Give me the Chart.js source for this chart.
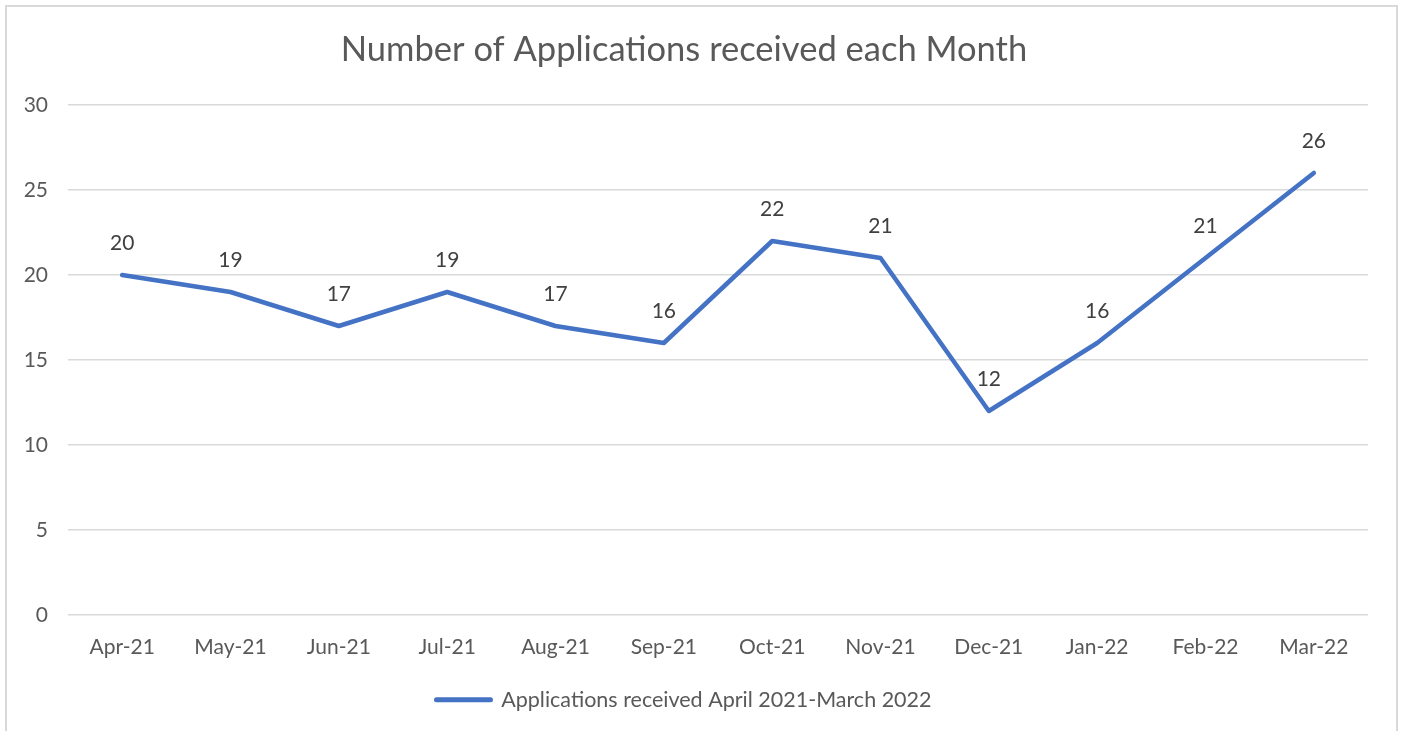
<!DOCTYPE html>
<html>
<head>
<meta charset="utf-8">
<script src="https://cdn.jsdelivr.net/npm/chart.js@4.4.1/dist/chart.umd.min.js"></script>
<style>
  html, body { margin: 0; padding: 0; background: #fff; }
  .wrap { position: relative; width: 1402px; height: 731px; overflow: hidden; }
  .frame { position: absolute; left: 5px; top: 5px; width: 1389px; height: 760px; border: 2px solid #d9d9d9; }
  canvas { position: absolute; left: 0; top: 0; }
</style>
</head>
<body>
<div class="wrap">
  <div class="frame"></div>
  <canvas id="chart" width="1402" height="731"></canvas>
</div>
<script>
const months = ['Apr-21', 'May-21', 'Jun-21', 'Jul-21', 'Aug-21', 'Sep-21', 'Oct-21', 'Nov-21', 'Dec-21', 'Jan-22', 'Feb-22', 'Mar-22'];
const applications = [20, 19, 17, 19, 17, 16, 22, 21, 12, 16, 21, 26];
const seriesName = 'Applications received April 2021-March 2022';
const chartTitle = 'Number of Applications received each Month';

const textGrey = '#595959';
const lineBlue = '#4472C4';
const fontFamily = 'Lato, "Open Sans", sans-serif';

// value labels above each point
const pointLabels = {
  id: 'pointLabels',
  afterDatasetsDraw(chart) {
    const ctx = chart.ctx;
    const meta = chart.getDatasetMeta(0);
    ctx.save();
    ctx.font = '21px ' + fontFamily;
    ctx.fillStyle = '#404040';
    ctx.textAlign = 'center';
    ctx.textBaseline = 'middle';
    meta.data.forEach((pt, i) => {
      ctx.fillText(String(applications[i]), pt.x, pt.y - 32);
    });
    ctx.restore();
  }
};

new Chart(document.getElementById('chart'), {
  type: 'line',
  data: {
    labels: months,
    datasets: [{
      label: seriesName,
      data: applications,
      borderColor: lineBlue,
      backgroundColor: lineBlue,
      borderWidth: 4.5,
      borderCapStyle: 'round',
      borderJoinStyle: 'round',
      pointRadius: 0,
      tension: 0,
      fill: false
    }]
  },
  options: {
    responsive: false,
    animation: false,
    layout: { padding: { left: 0, right: 34, top: 0, bottom: 10.5 } },
    plugins: {
      title: {
        display: true,
        text: chartTitle,
        color: textGrey,
        font: { family: fontFamily, size: 34.5, weight: 'normal' },
        padding: { top: 29.3, bottom: 34.3 }
      },
      legend: {
        position: 'bottom',
        labels: {
          color: textGrey,
          font: { family: fontFamily, size: 21.5 },
          usePointStyle: true,
          pointStyle: 'line',
          pointStyleWidth: 54,
          boxHeight: 18,
          padding: 10,
          generateLabels(chart) {
            return [{
              text: seriesName,
              strokeStyle: lineBlue,
              fillStyle: lineBlue,
              lineWidth: 5,
              lineCap: 'round',
              pointStyle: 'line',
              datasetIndex: 0,
              fontColor: textGrey
            }];
          }
        }
      },
      tooltip: { enabled: false }
    },
    scales: {
      x: {
        offset: true,
        grid: { display: false, drawTicks: false },
        border: { display: false },
        ticks: {
          color: textGrey,
          font: { family: fontFamily, size: 21 },
          padding: 19.4,
          maxRotation: 0,
          autoSkip: false
        },
        afterFit(scale) { scale.height = 64; }
      },
      y: {
        min: 0,
        max: 30,
        grid: { color: '#d9d9d9', lineWidth: 1.5, drawTicks: false },
        border: { display: false },
        ticks: {
          stepSize: 5,
          color: textGrey,
          font: { family: fontFamily, size: 21 },
          padding: 20
        },
        afterFit(scale) { scale.width = 68; }
      }
    }
  },
  plugins: [pointLabels]
});
</script>
</body>
</html>
